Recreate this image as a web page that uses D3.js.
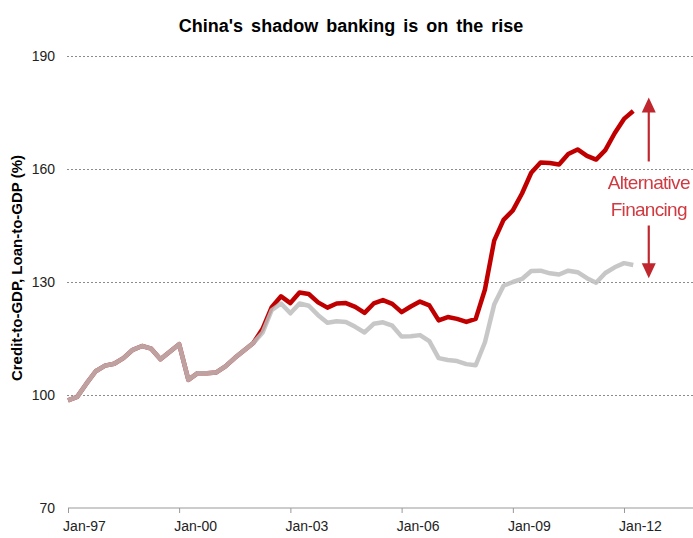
<!DOCTYPE html>
<html>
<head>
<meta charset="utf-8">
<script src="https://cdn.jsdelivr.net/npm/d3@7"></script>
<style>
  body { margin: 0; background: #fff; }
  svg { display: block; font-family: "Liberation Sans", Arial, sans-serif; }
</style>
</head>
<body>
<div id="chart"></div>
<script>
const width = 693;
const height = 538;

// quarterly observations, Jan-97 onward
const startDate = new Date(1997, 0, 1);
const pointCount = 62;

const creditToGDP = [
  98.6, 99.5, 103, 106.3, 107.8, 108.3, 109.8, 112, 113, 112.3, 109.5, 111.5, 113.5, 104, 105.8, 105.8,
  106, 107.6, 109.8, 111.8, 113.8, 117.5, 123.3, 126.2, 124.4, 127.2, 126.8, 124.6, 123.2, 124.3, 124.4,
  123.4, 121.8, 124.3, 125.2, 124.2, 122, 123.5, 124.8, 123.8, 119.8, 120.7, 120.2, 119.4, 120.2, 128,
  141, 146.5, 149, 153.5, 159, 161.7, 161.6, 161.2, 164, 165.2, 163.5, 162.5, 165, 169.5, 173.3, 175.4
];

const loanToGDP = [
  98.6, 99.5, 103, 106.3, 107.8, 108.3, 109.8, 112, 113, 112.3, 109.5, 111.5, 113.5, 104, 105.8, 105.8,
  106, 107.6, 109.8, 111.8, 113.8, 116.5, 122.5, 124.3, 121.7, 124.3, 123.7, 121.2, 119.2, 119.6, 119.4,
  118.1, 116.6, 118.9, 119.3, 118.4, 115.5, 115.6, 115.9, 114.3, 109.8, 109.3, 109, 108.2, 107.9, 114,
  124, 129, 130, 130.8, 132.9, 133, 132.3, 132, 133, 132.6, 131, 129.8, 132.4, 133.9, 135, 134.5
];

const yTicks = [70, 100, 130, 160, 190];
const xTickYears = [1997, 2000, 2003, 2006, 2009, 2012];

// annotation: arrow ends in y units
const arrowUp = [162, 179];
const arrowDown = [145, 131];
const noteLines = ['Alternative', 'Financing'];

const dates = d3.range(pointCount).map((i) => d3.timeMonth.offset(startDate, i * 3));

const x = d3.scaleTime()
  .domain([new Date(1997, 0, 1), new Date(2012, 0, 1)])
  .range([68, 624]);

const y = d3.scaleLinear()
  .domain([70, 190])
  .range([508, 56]);

const svg = d3.select('#chart')
  .append('svg')
  .attr('width', width)
  .attr('height', height);

const defs = svg.append('defs');
const shadow = defs.append('filter').attr('id', 'soft')
  .attr('x', '-5%').attr('y', '-5%').attr('width', '110%').attr('height', '110%');
shadow.append('feGaussianBlur').attr('stdDeviation', 0.7);

const glow = defs.append('filter').attr('id', 'glow')
  .attr('x', '-10%').attr('y', '-20%').attr('width', '120%').attr('height', '140%');
glow.append('feGaussianBlur').attr('in', 'SourceGraphic').attr('stdDeviation', 0.6);

// title
svg.append('text')
  .attr('x', 351)
  .attr('y', 32)
  .attr('text-anchor', 'middle')
  .style('font-size', '18px')
  .style('font-weight', 'bold')
  .style('word-spacing', '3px')
  .text("China's shadow banking is on the rise");

// grid lines
const grid = svg.append('g')
  .attr('transform', `translate(67,0)`)
  .call(d3.axisLeft(y).tickValues(yTicks.slice(1)).tickSize(-(width - 67)).tickFormat(''));
grid.select('.domain').remove();
grid.selectAll('line')
  .attr('stroke', '#8c8c8c')
  .attr('stroke-dasharray', '2,2');

// y labels
const yAxis = svg.append('g')
  .attr('transform', `translate(67,0)`)
  .call(d3.axisLeft(y).tickValues(yTicks).tickSize(0).tickPadding(12));
yAxis.select('.domain').remove();
yAxis.selectAll('text')
  .style('font-size', '14px')
  .attr('fill', '#222');

svg.append('text')
  .attr('transform', `translate(22, ${268}) rotate(-90)`)
  .attr('text-anchor', 'middle')
  .style('font-size', '15px')
  .style('font-weight', 'bold')
  .text('Credit-to-GDP, Loan-to-GDP (%)');

// x axis
const xAxis = svg.append('g')
  .attr('transform', `translate(0, ${y(70)})`)
  .call(d3.axisBottom(x)
    .tickValues(xTickYears.map((yr) => new Date(yr, 0, 1)))
    .tickSize(5)
    .tickFormat(d3.timeFormat('Jan-%y')));
xAxis.select('.domain').remove();
xAxis.selectAll('line').attr('stroke', '#999');
xAxis.selectAll('text')
  .attr('dx', 16)
  .attr('dy', '1.05em')
  .style('font-size', '14px')
  .attr('fill', '#222');
xAxis.append('line')
  .attr('x1', x(startDate))
  .attr('x2', width)
  .attr('stroke', '#999');

// series
const line = d3.line()
  .x((d, i) => x(dates[i]))
  .y((d) => y(d));

svg.append('path')
  .datum(creditToGDP)
  .attr('d', line)
  .attr('fill', 'none')
  .attr('stroke', '#c00000')
  .attr('stroke-width', 4.5)
  .attr('stroke-linejoin', 'round')
  .attr('filter', 'url(#soft)');

svg.append('path')
  .datum(loanToGDP)
  .attr('d', line)
  .attr('fill', 'none')
  .attr('stroke', '#bdbdbd')
  .attr('stroke-opacity', 0.85)
  .attr('stroke-width', 4.5)
  .attr('stroke-linejoin', 'round')
  .attr('filter', 'url(#soft)');

// annotation
const ax = x(new Date(2012, 8, 1));
const arrowColor = '#c0282d';

function arrow(from, to) {
  const y0 = y(from), y1 = y(to);
  const dir = y1 < y0 ? 1 : -1;
  const g = svg.append('g').attr('filter', 'url(#glow)');
  g.append('line')
    .attr('x1', ax).attr('x2', ax)
    .attr('y1', y0).attr('y2', y1 + dir * 12)
    .attr('stroke', arrowColor)
    .attr('stroke-width', 2.2);
  g.append('path')
    .attr('d', `M${ax},${y1} L${ax - 7},${y1 + dir * 15} L${ax + 7},${y1 + dir * 15} Z`)
    .attr('fill', arrowColor);
}
arrow(arrowUp[0], arrowUp[1]);
arrow(arrowDown[0], arrowDown[1]);

svg.append('g')
  .attr('filter', 'url(#glow)')
  .selectAll('text')
  .data(noteLines)
  .enter()
  .append('text')
  .attr('x', ax)
  .attr('y', (d, i) => y(154.6) + i * 27)
  .attr('text-anchor', 'middle')
  .style('font-size', '19px')
  .style('letter-spacing', '-0.7px')
  .attr('fill', '#cf3a40')
  .text((d) => d);
</script>
</body>
</html>
